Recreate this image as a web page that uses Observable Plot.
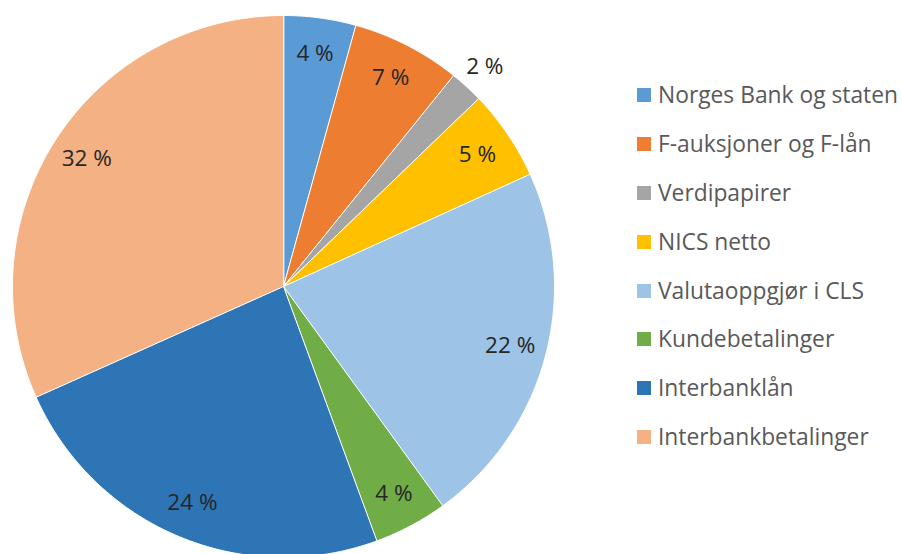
<!DOCTYPE html>
<html>
<head>
<meta charset="utf-8">
<script src="https://cdn.jsdelivr.net/npm/d3@7"></script>
<script src="https://cdn.jsdelivr.net/npm/@observablehq/plot@0.6"></script>
<style>
  html, body { margin: 0; padding: 0; background: #fff; }
  #wrap { position: relative; width: 902px; height: 554px; overflow: hidden; font-family: "Open Sans", sans-serif; }
  #legend { position: absolute; left: 637px; top: 71px; }
  .item { display: flex; align-items: center; height: 48.8px; margin: 0; }
  .sw { width: 14px; height: 14px; margin-right: 7px; flex: none; }
  .lab { font-size: 22.8px; color: #595959; white-space: nowrap; line-height: 26px; }
</style>
</head>
<body>
<div id="wrap"><div id="chart"></div><div id="legend"></div></div>
<script>
const categories = ["Norges Bank og staten", "F-auksjoner og F-lån", "Verdipapirer", "NICS netto",
  "Valutaoppgjør i CLS", "Kundebetalinger", "Interbanklån", "Interbankbetalinger"];
const shares = [4.3, 6.5, 2.0, 5.4, 21.8, 4.4, 23.9, 31.7];
const colors = ["#5B9BD5", "#ED7D31", "#A5A5A5", "#FFC000", "#9DC3E6", "#70AD47", "#2E75B6", "#F4B183"];

const data = categories.map((name, i) => ({name, value: shares[i]}));
const arcs = d3.pie().sort(null).value(d => d.value).startAngle(0).endAngle(2 * Math.PI)(data);

// polygon points for each slice (unit circle coordinates, y up)
const pts = [];
arcs.forEach(a => {
  const name = a.data.name;
  pts.push({name, x: 0, y: 0});
  const n = Math.max(2, Math.ceil((a.endAngle - a.startAngle) / 0.01));
  for (let k = 0; k <= n; k++) {
    const t = a.startAngle + (a.endAngle - a.startAngle) * k / n;
    pts.push({name, x: Math.sin(t), y: Math.cos(t)});
  }
});

const labels = arcs.map(a => {
  const mid = (a.startAngle + a.endAngle) / 2;
  const r = a.data.value < 3 ? 1.1 : 0.865;
  return {x: r * Math.sin(mid), y: r * Math.cos(mid), text: Math.round(a.data.value) + " %"};
});

const cx = 283, cy = 286, R = 271;
const chart = Plot.plot({
  width: 902,
  height: 554,
  margin: 0,
  style: {fontFamily: "Open Sans, sans-serif", background: "white", overflow: "visible"},
  x: {domain: [-1, 1], range: [cx - R, cx + R], axis: null},
  y: {domain: [-1, 1], range: [cy + R, cy - R], axis: null},
  color: {domain: categories, range: colors},
  marks: [
    Plot.line(pts, {x: "x", y: "y", z: "name", fill: "name", stroke: "white", strokeWidth: 1, curve: "linear-closed"}),
    Plot.text(labels, {x: "x", y: "y", text: "text", fontSize: 22.5, fill: "#262626"})
  ]
});
document.getElementById("chart").appendChild(chart);

const legend = document.getElementById("legend");
categories.forEach((c, i) => {
  const row = document.createElement("div");
  row.className = "item";
  row.innerHTML = `<span class="sw" style="background:${colors[i]}"></span><span class="lab">${c}</span>`;
  legend.appendChild(row);
});
</script>
</body>
</html>
